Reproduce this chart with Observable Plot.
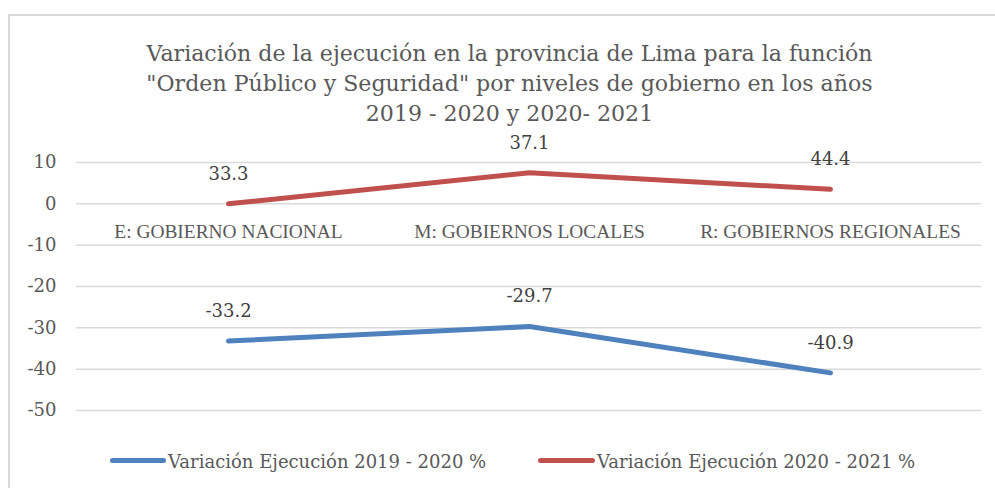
<!DOCTYPE html>
<html>
<head>
<meta charset="utf-8">
<script src="https://cdn.jsdelivr.net/npm/d3@7"></script>
<script src="https://cdn.jsdelivr.net/npm/@observablehq/plot@0.6"></script>
<style>
  html, body { margin: 0; padding: 0; background: #fff; }
  #wrap { position: relative; width: 995px; height: 488px; overflow: hidden; background: #fff; }
  #frame { position: absolute; left: 8px; top: 14px; width: 1000px; height: 500px;
           border-left: 2px solid #d9d9d9; border-top: 2px solid #d9d9d9; box-sizing: border-box; }
  #chart { position: absolute; left: 0; top: 0; }
  #title { position: absolute; left: 24px; top: 38px; width: 971px; text-align: center;
           font-family: "DejaVu Serif", serif; font-size: 22.1px; line-height: 30px; color: #595959; }
  .sw { position: absolute; height: 5px; border-radius: 3px; }
  .lt { position: absolute; font-family: "DejaVu Serif", serif; font-size: 18px; line-height: 24px; color: #595959; white-space: nowrap; }
</style>
</head>
<body>
<div id="wrap">
  <div id="frame"></div>
  <div id="chart"></div>
  <div id="title"></div>
  <div id="legend"></div>
</div>
<script>
const titleLines = [
  "Variación de la ejecución en la provincia de Lima para la función",
  "\"Orden Público y Seguridad\" por niveles de gobierno en los años",
  "2019 - 2020 y 2020- 2021"
];
const categories = ["E: GOBIERNO NACIONAL", "M: GOBIERNOS LOCALES", "R: GOBIERNOS REGIONALES"];
const seriesNames = ["Variación Ejecución 2019 - 2020 %", "Variación Ejecución 2020 - 2021 %"];
const seriesColors = ["#4f81bd", "#c0504d"];
// plotted values as drawn in the picture
const values2019_2020 = [-33.2, -29.7, -40.9];
const values2020_2021 = [0, 7.5, 3.5];
// data labels as printed in the picture
const labels2019_2020 = ["-33.2", "-29.7", "-40.9"];
const labels2020_2021 = ["33.3", "37.1", "44.4"];
const yTicks = [10, 0, -10, -20, -30, -40, -50];

const data = [];
categories.forEach((c, i) => {
  data.push({cat: c, series: seriesNames[0], value: values2019_2020[i], label: labels2019_2020[i]});
});
categories.forEach((c, i) => {
  data.push({cat: c, series: seriesNames[1], value: values2020_2021[i], label: labels2020_2021[i]});
});

document.getElementById("title").innerHTML = titleLines.map(t => t.replace(/&/g,"&amp;").replace(/</g,"&lt;")).join("<br>");

const chart = Plot.plot({
  width: 995,
  height: 488,
  marginLeft: 76,
  marginRight: 14,
  marginTop: 162,
  marginBottom: 78,
  style: {background: "transparent", overflow: "visible"},
  x: {type: "point", domain: categories, padding: 0.5, axis: null},
  y: {domain: [-50, 10], axis: null},
  color: {domain: seriesNames, range: seriesColors},
  marks: [
    Plot.ruleY(yTicks, {stroke: "#d9d9d9", strokeWidth: 1.5}),
    Plot.axisY(yTicks, {
      tickSize: 0, tickPadding: 20, fill: "#595959",
      fontFamily: "DejaVu Serif", fontSize: 18, label: null, tickFormat: d => String(d)
    }),
    Plot.text(categories, {
      x: d => d, y: () => 0, dy: 28, text: d => d,
      fontFamily: "Liberation Serif", fontSize: 19.4, fill: "#595959", lineAnchor: "middle"
    }),
    Plot.line(data, {
      x: "cat", y: "value", z: "series", stroke: "series",
      strokeWidth: 5, strokeLinecap: "round", strokeLinejoin: "round"
    }),
    Plot.text(data, {
      x: "cat", y: "value", text: "label", dy: -30,
      fontFamily: "DejaVu Serif", fontSize: 18, fill: "#404040", lineAnchor: "middle"
    })
  ]
});
document.getElementById("chart").appendChild(chart);

const legend = document.getElementById("legend");
const items = [
  {sw: 110, w: 56, tx: 168},
  {sw: 538, w: 57, tx: 597}
];
seriesNames.forEach((n, i) => {
  const s = document.createElement("div");
  s.className = "sw";
  s.style.left = items[i].sw + "px";
  s.style.width = items[i].w + "px";
  s.style.top = "458px";
  s.style.background = seriesColors[i];
  legend.appendChild(s);
  const t = document.createElement("div");
  t.className = "lt";
  t.style.left = items[i].tx + "px";
  t.style.top = "450px";
  t.textContent = n;
  legend.appendChild(t);
});
</script>
</body>
</html>
